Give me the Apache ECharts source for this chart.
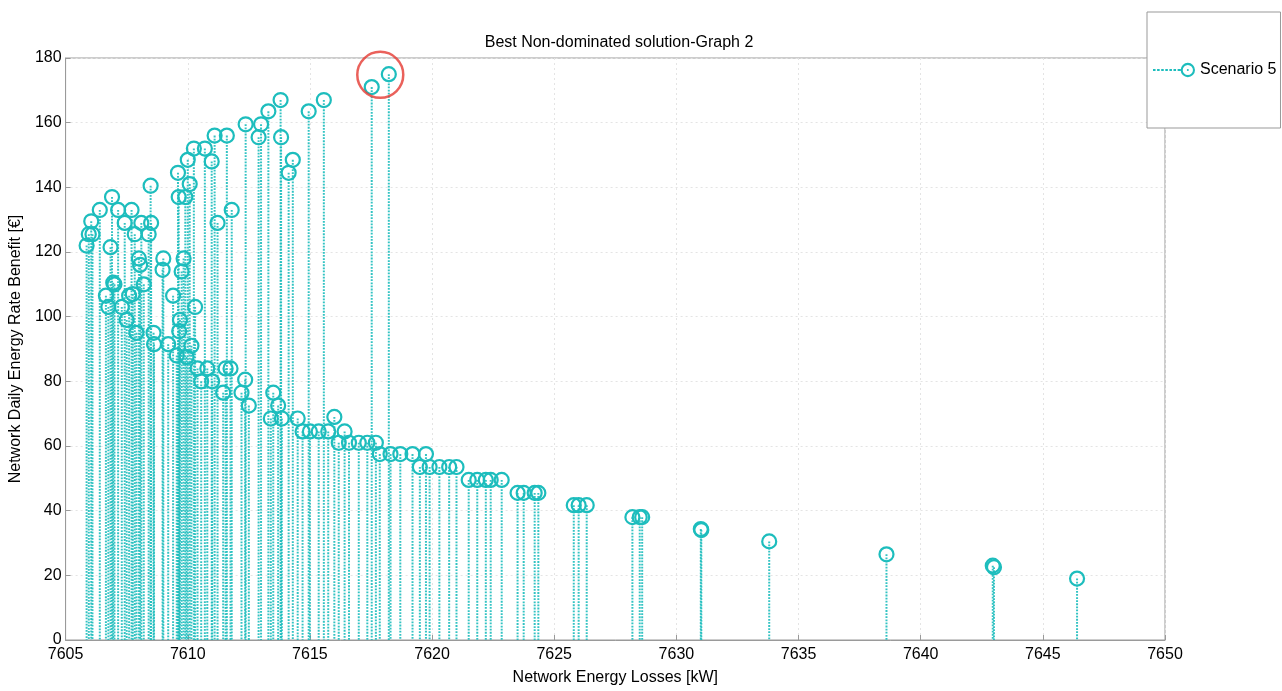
<!DOCTYPE html>
<html>
<head>
<meta charset="utf-8">
<title>Best Non-dominated solution-Graph 2</title>
<script src="https://cdn.jsdelivr.net/npm/echarts@6/dist/echarts.min.js"></script>
<style>
  html, body { margin: 0; padding: 0; background: #fff; }
  #chart { width: 1282px; height: 691px; }
</style>
</head>
<body>
<div id="chart"></div>
<script>
// ---- data ----
const chartTitle = 'Best Non-dominated solution-Graph 2';
const seriesName = 'Scenario 5';
const xAxisName = 'Network Energy Losses [kW]';
const yAxisName = 'Network Daily Energy Rate Benefit [€]';
const xTicks = [7605, 7610, 7615, 7620, 7625, 7630, 7635, 7640, 7645, 7650];
const yTicks = [0, 20, 40, 60, 80, 100, 120, 140, 160, 180];

const lossesKW = [
  7605.86, 7605.95, 7606.05, 7606.10, 7606.40, 7606.65, 7606.75, 7606.84, 7606.90, 7606.95,
  7607.00, 7607.15, 7607.30, 7607.42, 7607.50, 7607.60, 7607.70, 7607.75, 7607.83, 7607.90,
  7608.00, 7608.05, 7608.10, 7608.20, 7608.40, 7608.50, 7608.48, 7608.60, 7608.62, 7608.97,
  7609.00, 7609.20, 7609.40, 7609.55, 7609.60, 7609.63, 7609.65, 7609.68, 7609.75, 7609.83,
  7609.90, 7609.95, 7610.00, 7610.08, 7610.15, 7610.25, 7610.30, 7610.40, 7610.55, 7610.70,
  7610.80, 7610.98, 7611.00, 7611.10, 7611.22, 7611.45, 7611.55, 7611.60, 7611.75, 7611.80,
  7612.20, 7612.35, 7612.37, 7612.50, 7612.90, 7613.00, 7613.30, 7613.40, 7613.50, 7613.70,
  7613.80, 7613.82, 7613.85, 7614.13, 7614.30, 7614.50, 7614.70, 7614.95, 7615.00, 7615.36,
  7615.57, 7615.75, 7616.00, 7616.18, 7616.42, 7616.60, 7617.00, 7617.35, 7617.53, 7617.70,
  7617.86, 7618.23, 7618.30, 7618.70, 7619.20, 7619.50, 7619.75, 7619.90, 7620.30, 7620.70,
  7621.00, 7621.50, 7621.85, 7622.20, 7622.40, 7622.85, 7623.50, 7623.75, 7624.20, 7624.35,
  7625.80, 7626.00, 7626.33, 7628.20, 7628.50, 7628.60, 7631.00, 7631.02, 7633.80, 7638.60,
  7642.95, 7643.00, 7646.40
];
const benefitEUR = [
  122.0, 125.5, 129.5, 125.5, 133.0, 106.5, 103.0, 121.5, 137.0, 110.5,
  110.0, 133.0, 103.0, 129.0, 99.0, 106.5, 133.0, 107.0, 125.5, 95.0,
  118.0, 116.0, 129.0, 110.0, 125.5, 129.0, 140.5, 95.0, 91.5, 114.5,
  118.0, 91.5, 106.5, 88.0, 144.5, 137.0, 95.5, 99.0, 114.0, 118.0,
  137.0, 87.5, 148.5, 141.0, 91.0, 152.0, 103.0, 84.0, 80.0, 152.0,
  84.0, 148.0, 80.0, 156.0, 129.0, 76.5, 84.0, 156.0, 84.0, 133.0,
  76.5, 80.5, 159.5, 72.5, 155.5, 159.5, 163.5, 68.5, 76.5, 72.5,
  167.0, 155.5, 68.5, 144.5, 148.5, 68.5, 64.5, 163.5, 64.5, 64.5,
  167.0, 64.5, 69.0, 61.0, 64.5, 61.0, 61.0, 61.0, 171.0, 61.0,
  57.5, 175.0, 57.5, 57.5, 57.5, 53.5, 57.5, 53.5, 53.5, 53.5,
  53.5, 49.5, 49.5, 49.5, 49.5, 49.5, 45.5, 45.5, 45.5, 45.5,
  41.7, 41.7, 41.7, 38.0, 38.0, 38.0, 34.3, 34.0, 30.5, 26.5,
  23.0, 22.5, 19.0
];
// the red annotation circle around the best solutions
const highlightPoint = [7617.88, 174.8];

// ---- chart ----
const teal = '#1dbdbd';
const font = '"Liberation Sans", Arial, Helvetica, sans-serif';
const stemData = lossesKW.map((x, i) => [x, benefitEUR[i]]);

const legendIcon = 'path://' +
  'M0,7h2.5v2h-2.5z M4,7h2.5v2h-2.5z M8,7h2.5v2h-2.5z M12,7h2.5v2h-2.5z ' +
  'M16,7h2.5v2h-2.5z M20,7h2.5v2h-2.5z M24,7h3v2h-3z ' +
  'M41,8 A7,7 0 1 0 27,8 A7,7 0 1 0 41,8 Z M39,8 A5,5 0 1 1 29,8 A5,5 0 1 1 39,8 Z ' +
  'M35,8 A1,1 0 1 0 33,8 A1,1 0 1 0 35,8 Z';

const chart = echarts.init(document.getElementById('chart'), null, { renderer: 'canvas' });
chart.setOption({
  animation: false,
  backgroundColor: '#fff',
  textStyle: { fontFamily: font },
  title: {
    text: chartTitle,
    left: 614,
    top: 30,
    textAlign: 'center',
    textStyle: { fontSize: 16, fontWeight: 'normal', color: '#000', fontFamily: font }
  },
  legend: {
    data: [{ name: seriesName, icon: legendIcon }],
    left: 1147,
    top: 12,
    padding: [50, 4, 50, 6],
    itemWidth: 42,
    itemHeight: 16,
    borderColor: '#999',
    borderWidth: 1,
    backgroundColor: '#fff',
    selectedMode: false,
    z: 10,
    textStyle: { fontSize: 16, color: '#000', fontFamily: font }
  },
  grid: {
    left: 64, right: 117, top: 58, bottom: 42,
    show: true, borderColor: '#9a9a9a', borderWidth: 1, backgroundColor: '#fff'
  },
  xAxis: {
    type: 'value',
    min: xTicks[0], max: xTicks[xTicks.length - 1], interval: xTicks[1] - xTicks[0],
    name: xAxisName, nameLocation: 'middle', nameGap: 30,
    nameTextStyle: { fontSize: 16, color: '#000', fontFamily: font },
    axisLine: { show: true, onZero: false, lineStyle: { color: '#9a9a9a' } },
    axisTick: { show: true, inside: true, length: 5, lineStyle: { color: '#9a9a9a' } },
    axisLabel: { fontSize: 16, color: '#000', margin: 7, fontFamily: font,
                 formatter: v => String(v) },
    splitLine: { show: true, lineStyle: { color: '#e4e4e4', type: [2, 3] } }
  },
  yAxis: {
    type: 'value',
    min: yTicks[0], max: yTicks[yTicks.length - 1], interval: yTicks[1] - yTicks[0],
    name: yAxisName, nameLocation: 'middle', nameGap: 39, nameRotate: 90,
    nameTextStyle: { fontSize: 16, color: '#000', fontFamily: font },
    axisLine: { show: true, lineStyle: { color: '#9a9a9a' } },
    axisTick: { show: true, inside: true, length: 5, lineStyle: { color: '#9a9a9a' } },
    axisLabel: { fontSize: 16, color: '#000', margin: 4, fontFamily: font,
                 formatter: v => String(v) },
    splitLine: { show: true, lineStyle: { color: '#e4e4e4', type: [2, 3] } }
  },
  series: [
    {
      name: seriesName,
      type: 'custom',
      itemStyle: { color: teal },
      encode: { x: 0, y: 1 },
      data: stemData,
      clip: false,
      renderItem: function (params, api) {
        const x = api.value(0), y = api.value(1);
        const top = api.coord([x, y]);
        const base = api.coord([x, 0]);
        return {
          type: 'group',
          children: [
            {
              type: 'line',
              shape: { x1: top[0], y1: top[1], x2: base[0], y2: base[1] },
              style: { stroke: teal, lineWidth: 2, lineDash: [1.8, 1.3], opacity: 0.9 }
            },
            {
              type: 'circle',
              shape: { cx: top[0], cy: top[1], r: 7 },
              style: { fill: null, stroke: teal, lineWidth: 2.2 }
            }
          ]
        };
      }
    },
    {
      name: 'best',
      type: 'scatter',
      data: [highlightPoint],
      symbol: 'circle',
      symbolSize: 46,
      z: 5,
      silent: true,
      itemStyle: { color: 'rgba(0,0,0,0)', borderColor: '#e53a32', borderWidth: 2.5 }
    }
  ]
});
</script>
</body>
</html>
